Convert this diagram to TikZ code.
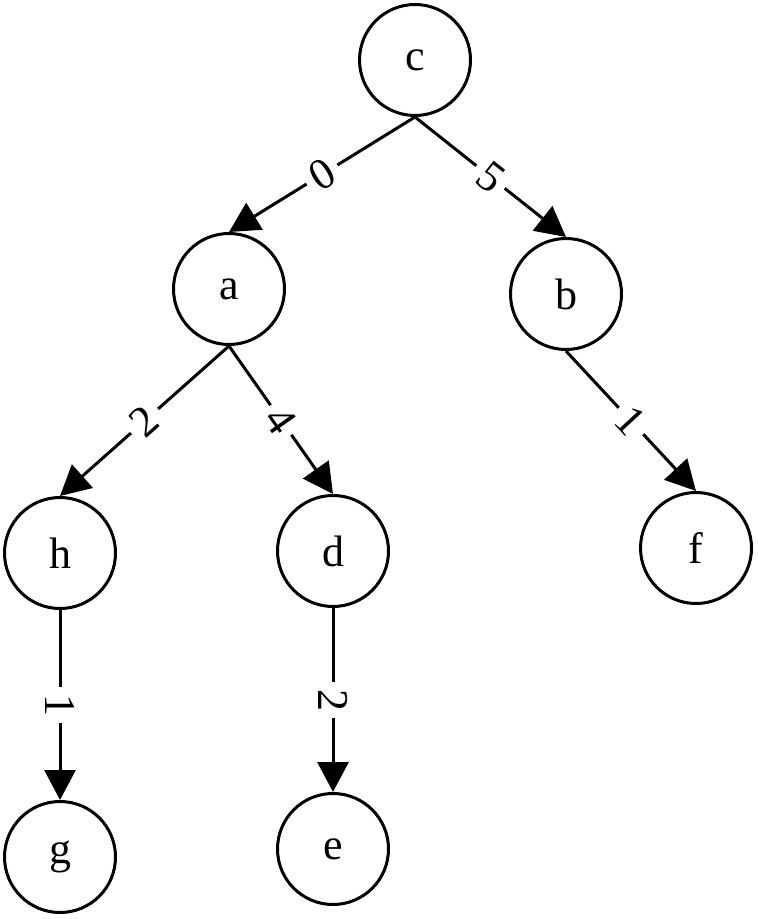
\documentclass[tikz,border=0pt]{standalone}
\usepackage{fontspec}
\setmainfont{Liberation Serif}
\usetikzlibrary{arrows.meta}
\begin{document}
\begin{tikzpicture}[x=0.5pt,y=-0.5pt,
  vtx/.style={circle,draw,line width=1.5pt,minimum size=55.5pt,inner sep=0pt,font=\fontsize{22}{26}\selectfont},
  edge/.style={line width=1.5pt,-{Triangle[length=15pt,width=15.5pt]}},
  lbl/.style={fill=white,sloped,inner sep=3.5pt,pos=0.5,font=\fontsize{22}{26}\selectfont}]
\useasboundingbox (0,0) rectangle (758,919);
\node[vtx] (c) at (415,60) {c};
\node[vtx] (a) at (229,289) {a};
\node[vtx] (b) at (566,294) {b};
\node[vtx] (h) at (60,553) {h};
\node[vtx] (d) at (333,551) {d};
\node[vtx] (f) at (696,548) {f};
\node[vtx] (g) at (60,857) {g};
\node[vtx] (e) at (333,849) {e};
\draw[edge] (c.south) -- node[lbl]{0} (a.north);
\draw[edge] (c.south) -- node[lbl]{5} (b.north);
\draw[edge] (a.south) -- node[lbl]{2} (h.north);
\draw[edge] (a.south) -- node[lbl]{4} (d.north);
\draw[edge] (b.south) -- node[lbl]{1} (f.north);
\draw[edge] (h.south) -- node[lbl]{1} (g.north);
\draw[edge] (d.south) -- node[lbl]{2} (e.north);
\end{tikzpicture}
\end{document}
